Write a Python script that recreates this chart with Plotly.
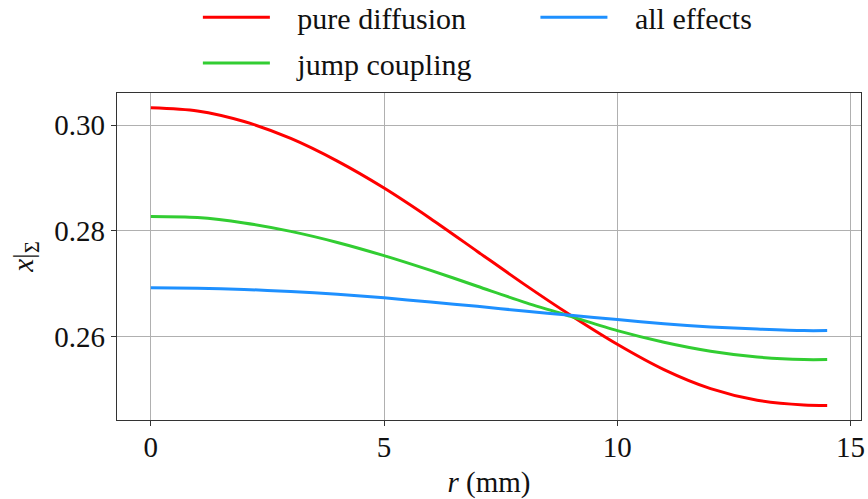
import plotly.graph_objects as go

r_mm = [0, 1, 2, 3, 4, 5, 6, 7, 8, 9, 10, 11, 12, 13, 14, 14.5]
pure_diffusion = [0.3033, 0.3027, 0.3007, 0.2975, 0.2932, 0.2881, 0.2823, 0.2761,
                  0.2699, 0.2640, 0.2585, 0.2537, 0.2501, 0.2479, 0.2470, 0.2469]
jump_coupling = [0.2827, 0.2825, 0.2815, 0.2799, 0.2778, 0.2753, 0.2725, 0.2695,
                 0.2665, 0.2638, 0.2611, 0.2589, 0.2572, 0.2561, 0.2556, 0.2556]
all_effects = [0.2692, 0.2691, 0.2689, 0.2685, 0.2680, 0.2673, 0.2665, 0.2657,
               0.2648, 0.2640, 0.2632, 0.2624, 0.2618, 0.2614, 0.2611, 0.2611]

x_ticks = [0, 5, 10, 15]
y_ticks = [0.26, 0.28, 0.30]
y_tick_labels = ["0.26", "0.28", "0.30"]

FONT = "Liberation Serif"
TXT = "#111111"
PAD = "\u00a0\u00a0\u00a0"

fig = go.Figure()
fig.add_trace(go.Scatter(x=r_mm, y=pure_diffusion, mode="lines", name=PAD + "pure diffusion",
                         line=dict(color="#ff0000", width=3, shape="spline", smoothing=0.8),
                         legend="legend"))
fig.add_trace(go.Scatter(x=r_mm, y=jump_coupling, mode="lines", name=PAD + "jump coupling",
                         line=dict(color="#32cd32", width=3, shape="spline", smoothing=0.8),
                         legend="legend3"))
fig.add_trace(go.Scatter(x=r_mm, y=all_effects, mode="lines", name=PAD + "all effects",
                         line=dict(color="#1e90ff", width=3, shape="spline", smoothing=0.8),
                         legend="legend2"))

axis_common = dict(
    showline=True, mirror=True, linecolor="#333333", linewidth=1.3,
    ticks="outside", ticklen=5, tickwidth=1.2, tickcolor="#333333",
    showgrid=True, gridcolor="#b0b0b0", gridwidth=1, zeroline=False,
    tickfont=dict(family=FONT, size=29, color=TXT),
)

leg_common = dict(orientation="h", xanchor="left", yanchor="middle",
                  font=dict(family=FONT, size=30, color=TXT),
                  bgcolor="rgba(0,0,0,0)", itemwidth=67)

fig.update_layout(
    width=868, height=499,
    paper_bgcolor="white", plot_bgcolor="white",
    margin=dict(l=117, r=7, t=93, b=79, autoexpand=False),
    font=dict(family=FONT, color=TXT),
    showlegend=True,
    legend=dict(x=0.1087, y=1.232, **leg_common),
    legend2=dict(x=0.5624, y=1.232, **leg_common),
    legend3=dict(x=0.1087, y=1.092, **leg_common),
    xaxis=dict(range=[-0.725, 15.225], tickvals=x_ticks, ticktext=[str(t) for t in x_ticks],
               ticklabelstandoff=-4,
               title=dict(text="<i>r</i> (mm)", font=dict(family=FONT, size=29), standoff=10),
               **axis_common),
    yaxis=dict(range=[0.24416, 0.30611], tickvals=y_ticks, ticktext=y_tick_labels,
               title=dict(text="<i>x</i>|<sub>Σ</sub>", font=dict(family=FONT, size=29), standoff=12),
               **axis_common),
)

fig.write_html("out.html", config={"displayModeBar": False},
               post_script="document.body.style.margin='0';")
